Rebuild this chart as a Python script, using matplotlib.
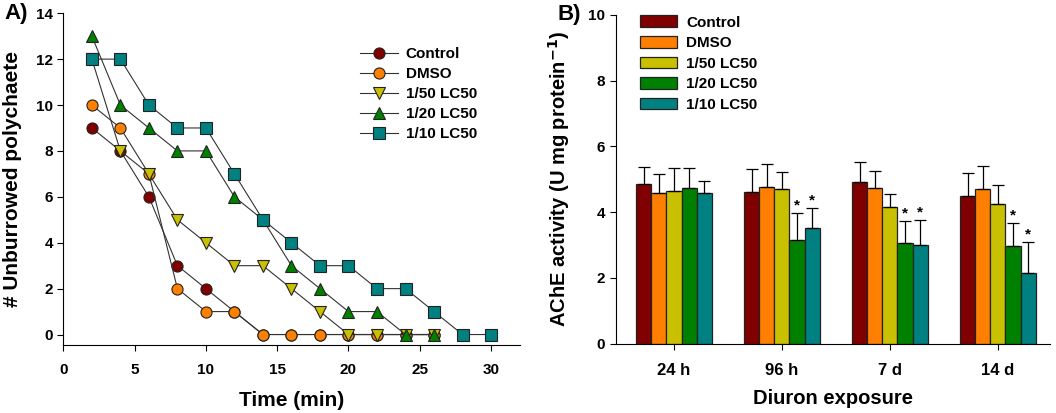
import numpy as np
import matplotlib.pyplot as plt

plt.rcParams['font.family'] = ['Liberation Sans', 'DejaVu Sans']
plt.rcParams['font.weight'] = 'bold'

# panel A: unburrowed polychaetes over time
time = [2, 4, 6, 8, 10, 12, 14, 16, 18, 20, 22, 24, 26, 28, 30]
control = [9, 8, 6, 3, 2, 1, 0, 0, 0, 0, 0, 0, 0]
dmso = [10, 9, 7, 2, 1, 1, 0, 0, 0, 0, 0, 0, 0]
lc50_50 = [12, 8, 7, 5, 4, 3, 3, 2, 1, 0, 0, 0, 0]
lc50_20 = [13, 10, 9, 8, 8, 6, 5, 3, 2, 1, 1, 0, 0]
lc50_10 = [12, 12, 10, 9, 9, 7, 5, 4, 3, 3, 2, 2, 1, 0, 0]

# panel B: AChE activity
exposure = ['24 h', '96 h', '7 d', '14 d']
groups = ['Control', 'DMSO', '1/50 LC50', '1/20 LC50', '1/10 LC50']
ache = {
    'Control':   [4.85, 4.62, 4.91, 4.50],
    'DMSO':      [4.57, 4.77, 4.72, 4.69],
    '1/50 LC50': [4.65, 4.69, 4.16, 4.26],
    '1/20 LC50': [4.72, 3.14, 3.05, 2.96],
    '1/10 LC50': [4.57, 3.51, 2.99, 2.15],
}
ache_err = {
    'Control':   [0.52, 0.68, 0.61, 0.69],
    'DMSO':      [0.59, 0.69, 0.53, 0.71],
    '1/50 LC50': [0.68, 0.52, 0.40, 0.58],
    '1/20 LC50': [0.62, 0.82, 0.67, 0.70],
    '1/10 LC50': [0.39, 0.62, 0.77, 0.95],
}
signif = {
    '1/20 LC50': [False, True, True, True],
    '1/10 LC50': [False, True, True, True],
}

colors = ['#800000', '#FF8000', '#C8C000', '#008000', '#008080']
markers = ['o', 'o', 'v', '^', 's']

fig = plt.figure(figsize=(10.56, 4.13), dpi=100)
axA = fig.add_axes([0.060, 0.165, 0.432, 0.803])
axB = fig.add_axes([0.583, 0.168, 0.411, 0.796])

series = [control, dmso, lc50_50, lc50_20, lc50_10]
for name, vals, c, m in zip(groups, series, colors, markers):
    axA.plot(time[:len(vals)], vals, color='#333333', lw=0.8, marker=m,
             markersize=8, markerfacecolor=c, markeredgecolor='#222222',
             markeredgewidth=0.8, label=name)

axA.set_xlim(0, 32)
axA.set_ylim(-0.45, 14)
axA.set_xticks([0, 5, 10, 15, 20, 25, 30])
axA.set_yticks([0, 2, 4, 6, 8, 10, 12, 14])
axA.set_xlabel('Time (min)', fontsize=15, fontweight='bold', labelpad=10)
axA.set_ylabel('# Unburrowed polychaete', fontsize=15, fontweight='bold', labelpad=10)
axA.legend(loc='upper left', bbox_to_anchor=(0.62, 0.94), frameon=False,
           fontsize=11, handlelength=2.5, labelspacing=0.4, handletextpad=0.5)
axA.text(-0.13, 1.0, 'A)', transform=axA.transAxes, fontsize=16,
         fontweight='bold', va='center')

x = np.arange(len(exposure))
w = 0.14
for i, (name, c) in enumerate(zip(groups, colors)):
    pos = x + (i - 2) * w
    axB.bar(pos, ache[name], w, color=c, edgecolor='#222222', lw=0.9,
            label=name, zorder=2)
    axB.errorbar(pos, ache[name], yerr=[np.zeros(len(x)), ache_err[name]],
                 fmt='none', ecolor='black', elinewidth=0.9, capsize=4,
                 capthick=0.9, zorder=3)
    if name in signif:
        for p, v, e, s in zip(pos, ache[name], ache_err[name], signif[name]):
            if s:
                axB.text(p, v + e + 0.02, '*', ha='center', va='bottom',
                         fontsize=11, fontweight='bold')

axB.set_xlim(-0.54, 3.48)
axB.set_ylim(0, 10)
axB.set_xticks(x)
axB.set_xticklabels(exposure)
axB.set_yticks([0, 2, 4, 6, 8, 10])
axB.set_xlabel('Diuron exposure', fontsize=14.5, fontweight='bold', labelpad=8)
axB.set_ylabel(r'AChE activity (U mg protein$^{\mathbf{-1}}$)', fontsize=14.5,
               fontweight='bold', labelpad=12)
axB.legend(loc='upper left', bbox_to_anchor=(0.025, 1.04), frameon=False,
           fontsize=11, handlelength=2.4, handleheight=0.8, labelspacing=0.42,
           handletextpad=0.6)
axB.text(-0.135, 1.0, 'B)', transform=axB.transAxes, fontsize=16,
         fontweight='bold', va='center')

for ax in (axA, axB):
    ax.spines['top'].set_visible(False)
    ax.spines['right'].set_visible(False)
    ax.tick_params(direction='out', length=4, labelsize=11)
    for lab in ax.get_xticklabels() + ax.get_yticklabels():
        lab.set_fontweight('bold')
axB.tick_params(axis='x', labelsize=12, pad=10)
axA.tick_params(axis='x', pad=9)

fig.savefig('out.png', dpi=100)
